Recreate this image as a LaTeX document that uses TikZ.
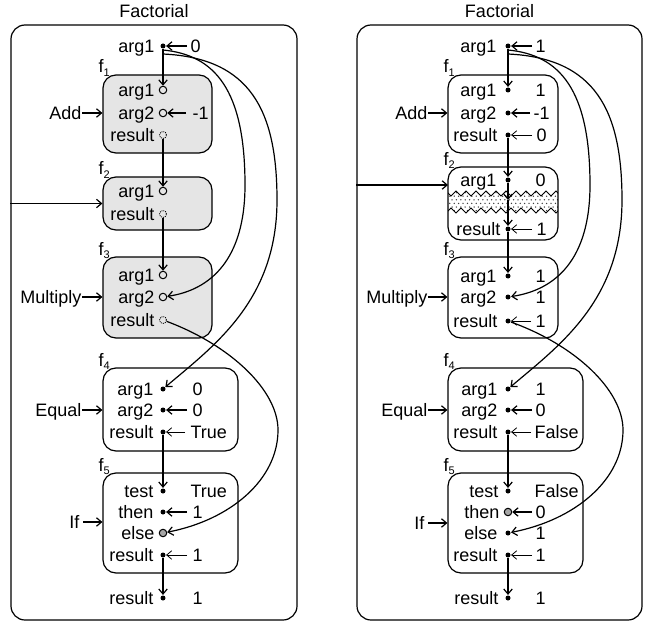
\documentclass[tikz,border=0pt]{standalone}
\usepackage{fontspec}
\setmainfont{Liberation Sans}
\usetikzlibrary{arrows.meta,calc}
\newcommand\fnsub[1]{\raisebox{-3.5pt}{\fontsize{11}{11}\selectfont #1}}
\begin{document}
\begin{tikzpicture}[x=1pt,y=-1pt,
  font=\fontsize{18}{20}\selectfont, line width=1.2pt,
  >={Straight Barb[length=5pt,width=8.5pt]},
  panelbox/.style={draw, rounded corners=14pt, inner sep=0pt, minimum width=286pt, minimum height=595pt},
  fnbox/.style={draw, rounded corners=13pt, inner sep=0pt},
  fnbusy/.style={fnbox, fill=black!10},
  txt/.style={inner sep=0pt, text height=13pt, text depth=0pt},
  rowlabel/.style={txt, anchor=east},
  rowvalue/.style={txt, anchor=west},
  fnname/.style={anchor=base west, inner sep=0pt},
  portopen/.style={circle, draw, inner sep=0pt, minimum size=7.5pt, line width=1pt},
  portpending/.style={circle, draw, dash pattern=on 1pt off 1pt, inner sep=0pt, minimum size=7pt, line width=0.8pt},
  portbound/.style={circle, fill, inner sep=0pt, minimum size=5pt},
  portunused/.style={circle, draw, fill=black!35, inner sep=0pt, minimum size=7.5pt, line width=1pt},
  resarrow/.style={->, line width=0.8pt},
]
\useasboundingbox (0,0) rectangle (645,623);

% ================= left: evaluation waiting on the recursive call =================
\node[panelbox] (Lpanel) at (154,322.5) {};
\node[txt] (Ltitle) at (154,11) {Factorial};

\node[portbound] (Lin) at (163,46) {};
\node[rowlabel] (Linl) at (155,46) {arg1};
\node[rowvalue] (Linv) at (190,46) {0};
\draw[->] ([xshift=-3pt]Linv.west) -- (Lin);

% f1 : Add
\node[fnbusy, minimum width=109pt, minimum height=78pt] (Lf1) at (157.5,114) {};
\node[fnname] (Lf1n) at (98,73) {f\fnsub{1}};
\node[portopen] (Lf1a) at (163,90) {};
\node[portopen] (Lf1b) at (163,113) {};
\node[portpending] (Lf1r) at (163,135) {};
\node[rowlabel] (Lf1al) at (155,90) {arg1};
\node[rowlabel] (Lf1bl) at (155,113) {arg2};
\node[rowlabel] (Lf1rl) at (155,135) {result};
\node[rowvalue] (Lf1bv) at (192,113) {-1};
\draw[->] ([xshift=-6pt]Lf1bv.west) -- (Lf1b);
\node[rowlabel] (Ladd) at (82,113) {Add};
\draw[->] (Ladd.east) -- (Ladd.east -| Lf1.west);
\draw[->] (Lin) -- (Lf1a);

% f2 : recursive call
\node[fnbusy, minimum width=109pt, minimum height=53pt] (Lf2) at (157.5,203.5) {};
\node[fnname] (Lf2n) at (98,175) {f\fnsub{2}};
\node[portopen] (Lf2a) at (163,191) {};
\node[portpending] (Lf2r) at (163,214) {};
\node[rowlabel] (Lf2al) at (155,191) {arg1};
\node[rowlabel] (Lf2rl) at (155,214) {result};
\draw[->] (Lf1r) -- (Lf2a);
\draw[->] (Lpanel.west |- Lf2.west) -- (Lf2.west);

% f3 : Multiply
\node[fnbusy, minimum width=109pt, minimum height=81pt] (Lf3) at (157.5,297.5) {};
\node[fnname] (Lf3n) at (98,255) {f\fnsub{3}};
\node[portopen] (Lf3a) at (163,275) {};
\node[portopen] (Lf3b) at (163,297) {};
\node[portpending] (Lf3r) at (163,320) {};
\node[rowlabel] (Lf3al) at (155,275) {arg1};
\node[rowlabel] (Lf3bl) at (155,297) {arg2};
\node[rowlabel] (Lf3rl) at (155,320) {result};
\node[rowlabel] (Lmul) at (82,297) {Multiply};
\draw[->] (Lmul.east) -- (Lmul.east -| Lf3.west);
\draw[->] (Lf2r) -- (Lf3a);

% f4 : Equal
\node[fnbox, minimum width=135pt, minimum height=83pt] (Lf4) at (170.5,409.5) {};
\node[fnname] (Lf4n) at (98,366) {f\fnsub{4}};
\node[portbound] (Lf4a) at (163,389) {};
\node[portbound] (Lf4b) at (163,410) {};
\node[portbound] (Lf4r) at (163,432) {};
\node[rowlabel] (Lf4al) at (154,389) {arg1};
\node[rowlabel] (Lf4bl) at (154,410) {arg2};
\node[rowlabel] (Lf4rl) at (154,432) {result};
\node[rowvalue] (Lf4av) at (192,389) {0};
\node[rowvalue] (Lf4bv) at (192,410) {0};
\node[rowvalue] (Lf4rv) at (190,432) {True};
\draw[->] ([xshift=-5pt]Lf4bv.west) -- (Lf4b);
\draw[resarrow] ([xshift=-5pt]Lf4rv.west) -- (Lf4r);
\node[rowlabel] (Leq) at (82,410) {Equal};
\draw[->] (Leq.east) -- (Leq.east -| Lf4.west);

% f5 : If
\node[fnbox, minimum width=135pt, minimum height=100pt] (Lf5) at (170.5,523) {};
\node[fnname] (Lf5n) at (98,471) {f\fnsub{5}};
\node[portbound] (Lf5t) at (163,491) {};
\node[portbound] (Lf5h) at (163,512) {};
\node[portunused] (Lf5e) at (163,533) {};
\node[portbound] (Lf5r) at (163,555) {};
\node[rowlabel] (Lf5tl) at (154,491) {test};
\node[rowlabel] (Lf5hl) at (154,512) {then};
\node[rowlabel] (Lf5el) at (155,533) {else};
\node[rowlabel] (Lf5rl) at (154,555) {result};
\node[rowvalue] (Lf5tv) at (190,491) {True};
\node[rowvalue] (Lf5hv) at (192,512) {1};
\node[rowvalue] (Lf5rv) at (192,555) {1};
\draw[->] ([xshift=-5pt]Lf5hv.west) -- (Lf5h);
\draw[resarrow] ([xshift=-5pt]Lf5rv.west) -- (Lf5r);
\node[rowlabel] (Lif) at (80,522) {If};
\draw[->] ([xshift=3pt]Lif.east) -- (Lif.east -| Lf5.west);
\draw[->] (Lf4r) -- (Lf5t);

% function result
\node[portbound] (Lout) at (163,598) {};
\node[rowlabel] (Loutl) at (154,598) {result};
\node[rowvalue] (Loutv) at (192,598) {1};
\draw[->] (Lf5r) -- (Lout);

% long-range wires
\draw[->] ([yshift=-4pt]Lin.center) .. controls (215,55) and (245,90) .. (245,185)
  .. controls (245,260) and (210,290) .. (Lf3b);
\draw[->] ([yshift=-8pt]Lin.center) .. controls (250,58) and (277,110) .. (277,200)
  .. controls (277,300) and (215,345) .. (Lf4a);
\draw[->] (Lf3r) .. controls (230,345) and (278,390) .. (278,430)
  .. controls (278,480) and (230,520) .. (Lf5e);

% ================= right: evaluation completed =================
\begin{scope}[xshift=345pt]
\node[panelbox, minimum width=285pt] (Rpanel) at (154.5,322.5) {};
\node[txt] (Rtitle) at (154.5,11) {Factorial};

\node[portbound] (Rin) at (163,46) {};
\node[rowlabel] (Rinl) at (152,46) {arg1};
\node[rowvalue] (Rinv) at (190,46) {1};
\draw[->] ([xshift=-3pt]Rinv.west) -- (Rin);

% f1 : Add
\node[fnbox, minimum width=110pt, minimum height=78pt] (Rf1) at (158,114) {};
\node[fnname] (Rf1n) at (98,73) {f\fnsub{1}};
\node[portbound] (Rf1a) at (163,90) {};
\node[portbound] (Rf1b) at (163,113) {};
\node[portbound] (Rf1r) at (163,135) {};
\node[rowlabel] (Rf1al) at (152,90) {arg1};
\node[rowlabel] (Rf1bl) at (152,113) {arg2};
\node[rowlabel] (Rf1rl) at (153,135) {result};
\node[rowvalue] (Rf1av) at (190,90) {1};
\node[rowvalue] (Rf1bv) at (188,113) {-1};
\node[rowvalue] (Rf1rv) at (191,135) {0};
\draw[->] ([xshift=-3pt]Rf1bv.west) -- (Rf1b);
\draw[resarrow] ([xshift=-4pt]Rf1rv.west) -- (Rf1r);
\node[rowlabel] (Radd) at (83,113) {Add};
\draw[->] (Radd.east) -- (Radd.east -| Rf1.west);
\draw[->] (Rin) -- (Rf1a);

% f2 : recursive call, body elided
\begin{scope}
  \clip[rounded corners=13pt] (103,167) rectangle (213,240);
  \begin{scope}
    \clip (96,196) \foreach \k in {1,...,12} {-- ++(5,-5) -- ++(5,5)}
      -- (216,208) \foreach \k in {1,...,12} {-- ++(-5,5) -- ++(-5,-5)} -- cycle;
    \foreach \i in {0,...,28} \foreach \j in {0,...,7}
      \fill[black!75] ({96+\i*4.4+2.2*mod(\j,2)},{189+\j*3.6}) circle (0.75);
  \end{scope}
  \draw[line width=0.9pt] (96,196) \foreach \k in {1,...,12} {-- ++(5,-5) -- ++(5,5)};
  \draw[line width=0.9pt] (216,208) \foreach \k in {1,...,12} {-- ++(-5,5) -- ++(-5,-5)};
\end{scope}
\node[fnbox, minimum width=110pt, minimum height=73pt] (Rf2) at (158,203.5) {};
\node[fnname] (Rf2n) at (98,165) {f\fnsub{2}};
\node[portbound] (Rf2a) at (163,180) {};
\node[portbound] (Rf2r) at (163,229) {};
\coordinate (Rf2mid) at (163,200);
\node[rowlabel] (Rf2al) at (152,180) {arg1};
\node[rowlabel] (Rf2rl) at (156,229) {result};
\node[rowvalue] (Rf2av) at (190,180) {0};
\node[rowvalue] (Rf2rv) at (191,229) {1};
\draw[resarrow] ([xshift=-4pt]Rf2rv.west) -- (Rf2r);
\draw[->] (Rf1r) -- (Rf2a);
\draw[->] (Rf2a) -- (Rf2mid);
\draw[->] (Rf2mid) -- (Rf2r);
\coordinate (Rf2in) at (103,185);
\draw[->] (Rpanel.west |- Rf2in) -- (Rf2in);

% f3 : Multiply
\node[fnbox, minimum width=110pt, minimum height=81pt] (Rf3) at (158,297.5) {};
\node[fnname] (Rf3n) at (98,255) {f\fnsub{3}};
\node[portbound] (Rf3a) at (163,276) {};
\node[portbound] (Rf3b) at (163,297) {};
\node[portbound] (Rf3r) at (163,321) {};
\node[rowlabel] (Rf3al) at (152,276) {arg1};
\node[rowlabel] (Rf3bl) at (152,297) {arg2};
\node[rowlabel] (Rf3rl) at (153,321) {result};
\node[rowvalue] (Rf3av) at (190,276) {1};
\node[rowvalue] (Rf3bv) at (190,297) {1};
\node[rowvalue] (Rf3rv) at (190,321) {1};
\draw[resarrow] ([xshift=-4pt]Rf3rv.west) -- (Rf3r);
\node[rowlabel] (Rmul) at (83,297) {Multiply};
\draw[->] (Rmul.east) -- (Rmul.east -| Rf3.west);
\draw[->] (Rf2r) -- (Rf3a);

% f4 : Equal
\node[fnbox, minimum width=135pt, minimum height=83pt] (Rf4) at (170.5,409.5) {};
\node[fnname] (Rf4n) at (98,366) {f\fnsub{4}};
\node[portbound] (Rf4a) at (163,389) {};
\node[portbound] (Rf4b) at (163,410) {};
\node[portbound] (Rf4r) at (163,432) {};
\node[rowlabel] (Rf4al) at (153,389) {arg1};
\node[rowlabel] (Rf4bl) at (153,410) {arg2};
\node[rowlabel] (Rf4rl) at (153,432) {result};
\node[rowvalue] (Rf4av) at (190,389) {1};
\node[rowvalue] (Rf4bv) at (190,410) {0};
\node[rowvalue] (Rf4rv) at (189,432) {False};
\draw[->] ([xshift=-3pt]Rf4bv.west) -- (Rf4b);
\draw[resarrow] ([xshift=-3pt]Rf4rv.west) -- (Rf4r);
\node[rowlabel] (Req) at (83,410) {Equal};
\draw[->] (Req.east) -- (Req.east -| Rf4.west);

% f5 : If
\node[fnbox, minimum width=135pt, minimum height=100pt] (Rf5) at (170.5,523) {};
\node[fnname] (Rf5n) at (98,471) {f\fnsub{5}};
\node[portbound] (Rf5t) at (163,491) {};
\node[portunused] (Rf5h) at (163,512) {};
\node[portbound] (Rf5e) at (163,533) {};
\node[portbound] (Rf5r) at (163,555) {};
\node[rowlabel] (Rf5tl) at (154,491) {test};
\node[rowlabel] (Rf5hl) at (155,512) {then};
\node[rowlabel] (Rf5el) at (153,533) {else};
\node[rowlabel] (Rf5rl) at (153,555) {result};
\node[rowvalue] (Rf5tv) at (189,491) {False};
\node[rowvalue] (Rf5hv) at (190,512) {0};
\node[rowvalue] (Rf5ev) at (190,533) {1};
\node[rowvalue] (Rf5rv) at (190,555) {1};
\draw[->] ([xshift=-3pt]Rf5hv.west) -- (Rf5h);
\draw[resarrow] ([xshift=-3pt]Rf5rv.west) -- (Rf5r);
\node[rowlabel] (Rif) at (80,523) {If};
\draw[->] ([xshift=3pt]Rif.east) -- (Rif.east -| Rf5.west);
\draw[->] (Rf4r) -- (Rf5t);

% function result
\node[portbound] (Rout) at (163,598) {};
\node[rowlabel] (Routl) at (154,598) {result};
\node[rowvalue] (Routv) at (190,598) {1};
\draw[->] (Rf5r) -- (Rout);

% long-range wires
\draw[->] ([yshift=-4pt]Rin.center) .. controls (215,55) and (245,90) .. (245,185)
  .. controls (245,260) and (210,290) .. (Rf3b);
\draw[->] ([yshift=-8pt]Rin.center) .. controls (250,58) and (277,110) .. (277,200)
  .. controls (277,300) and (215,345) .. (Rf4a);
\draw[->] (Rf3r) .. controls (230,345) and (278,390) .. (278,430)
  .. controls (278,480) and (230,520) .. (Rf5e);
\end{scope}
\end{tikzpicture}
\end{document}
